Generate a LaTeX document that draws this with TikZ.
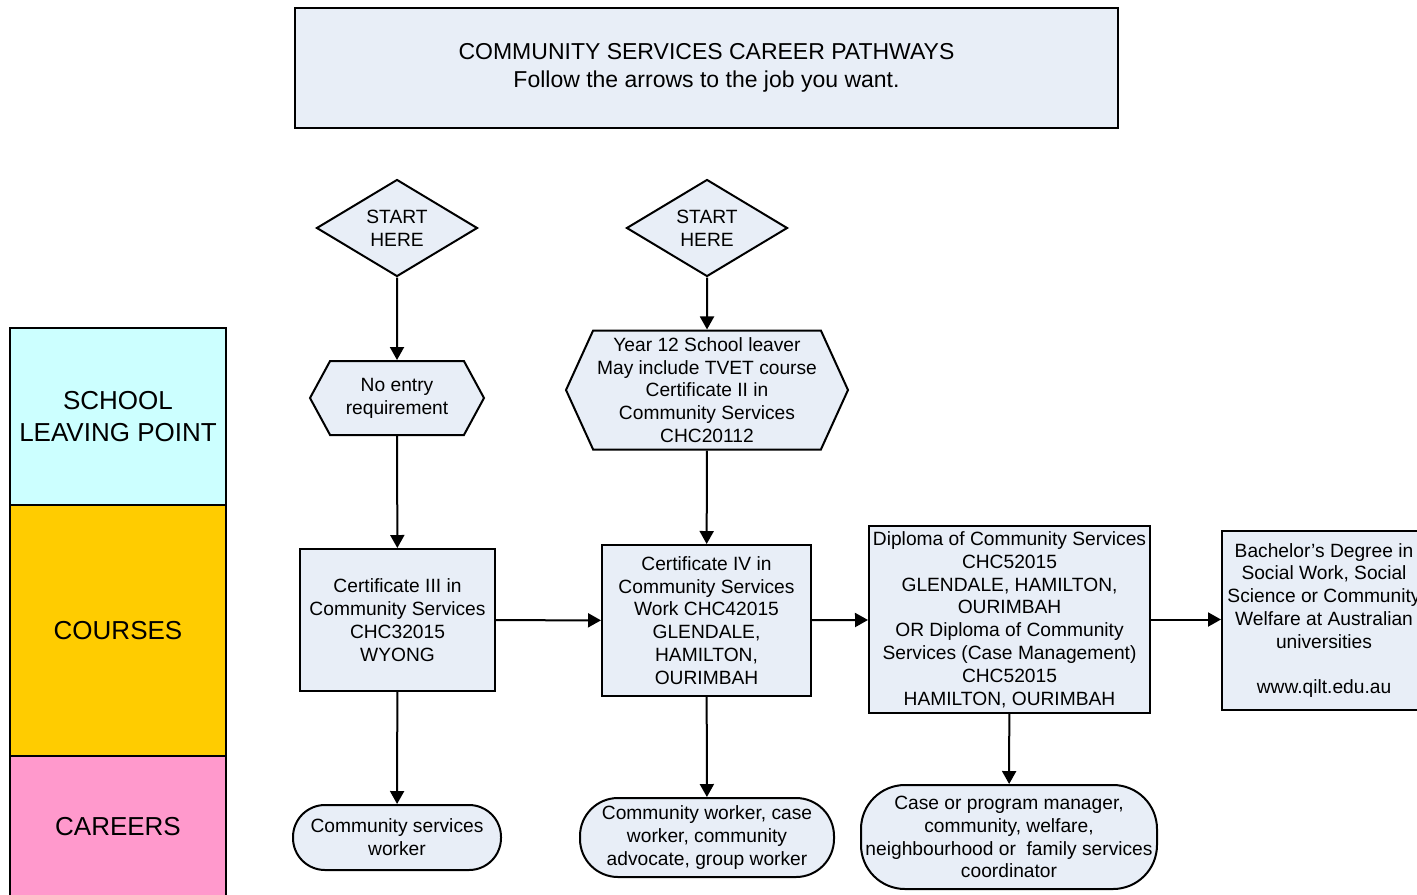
\documentclass[tikz,border=0pt]{standalone}
\usepackage{fontspec}
\setmainfont{Liberation Sans}
\usetikzlibrary{shapes.geometric, shapes.misc, shapes.symbols, arrows.meta, positioning}

\definecolor{boxfill}{RGB}{232,238,247}
\definecolor{leavecyan}{RGB}{204,255,255}
\definecolor{courseyellow}{RGB}{255,204,0}
\definecolor{careerpink}{RGB}{255,153,204}

\begin{document}
\begin{tikzpicture}[x=0.5pt, y=-0.5pt,
  base/.style={draw, line width=1pt, fill=boxfill, align=center, inner sep=1pt,
               font=\fontsize{9.6}{11.4}\selectfont},
  start/.style={base, diamond, aspect=1.66, minimum width=80.5pt,
                minimum height=48.5pt, inner sep=0pt},
  entry/.style={base, signal, signal to=west and east},
  course/.style={base, rectangle},
  career/.style={base, rectangle, inner sep=0pt},
  band/.style={draw, line width=1pt, minimum width=108pt, align=center, outer sep=0pt,
               font=\fontsize{13}{16}\selectfont},
  arr/.style={-{Triangle[length=6.5pt,width=7pt]}, line width=1pt}
]
\useasboundingbox (0,0) rectangle (1417,894);
\clip (0,0) rectangle (1417,894);

% title
\node[course, minimum width=411.5pt, minimum height=60pt,
      font=\fontsize{11.5}{14}\selectfont] (title) at (706.5,68)
      {COMMUNITY SERVICES CAREER PATHWAYS\\Follow the arrows to the job you want.};

% left bands
\node[band, fill=leavecyan, minimum height=88.5pt] (lvschool) at (118,416.5)
      {SCHOOL\\LEAVING POINT};
\node[band, fill=courseyellow, minimum height=125.5pt, below=0pt of lvschool]
      (lvcourses) {COURSES};
\node[band, fill=careerpink, minimum height=71pt, below=0pt of lvcourses]
      (lvcareers) {CAREERS};

% entry points
\node[start] (startA) at (397,228) {START\\HERE};
\node[start] (startB) at (707,228) {START\\HERE};
\node[entry, signal pointer angle=123, minimum width=87pt, minimum height=37pt]
      (noentry) at (397,398) {No entry\\requirement};
\node[entry, signal pointer angle=131, minimum width=141pt, minimum height=59.5pt]
      (yr12) at (707,390)
      {Year 12 School leaver\\May include TVET course\\Certificate II in\\Community Services\\CHC20112};

% courses
\node[course, minimum width=97.5pt, minimum height=71pt] (certthree) at (397.5,620)
      {Certificate III in\\Community Services\\CHC32015\\WYONG};
\node[course, minimum width=104.5pt, minimum height=75.5pt] (certfour) at (706.5,620.5)
      {Certificate IV in\\Community Services\\Work CHC42015\\GLENDALE,\\HAMILTON,\\OURIMBAH};
\node[course, minimum width=140.5pt, minimum height=93.5pt] (diploma) at (1009.5,619.5)
      {Diploma of Community Services\\CHC52015\\GLENDALE, HAMILTON,\\OURIMBAH\\OR Diploma of Community\\Services (Case Management)\\CHC52015\\HAMILTON, OURIMBAH};
\node[course, minimum width=102pt, minimum height=89.5pt] (bachelor) at (1324,620.5)
      {Bachelor’s Degree in\\Social Work, Social\\Science or Community\\Welfare at Australian\\universities\\[11.4pt]www.qilt.edu.au};

% careers
\node[career, rounded corners=16pt, minimum width=104pt, minimum height=32.5pt]
      (jobA) at (397,837.5) {Community services\\worker};
\node[career, rounded corners=19pt, minimum width=127pt, minimum height=39.5pt]
      (jobB) at (707,837.5) {Community worker, case\\worker, community\\advocate, group worker};
\node[career, rounded corners=22pt, minimum width=148pt, minimum height=52pt]
      (jobC) at (1009,837)
      {Case or program manager,\\community, welfare,\\neighbourhood or \ family services\\coordinator};

\draw[arr] (startA) -- (noentry);
\draw[arr] (noentry) -- (certthree);
\draw[arr] (certthree) -- (jobA);
\draw[arr] (startB) -- (yr12);
\draw[arr] (yr12) -- (certfour);
\draw[arr] (certfour) -- (jobB);
\draw[arr] (certthree) -- (certfour);
\draw[arr] (certfour) -- (diploma);
\draw[arr] (diploma.east) -- (diploma.east -| bachelor.west);
\draw[arr] (diploma) -- (jobC);
\end{tikzpicture}
\end{document}
